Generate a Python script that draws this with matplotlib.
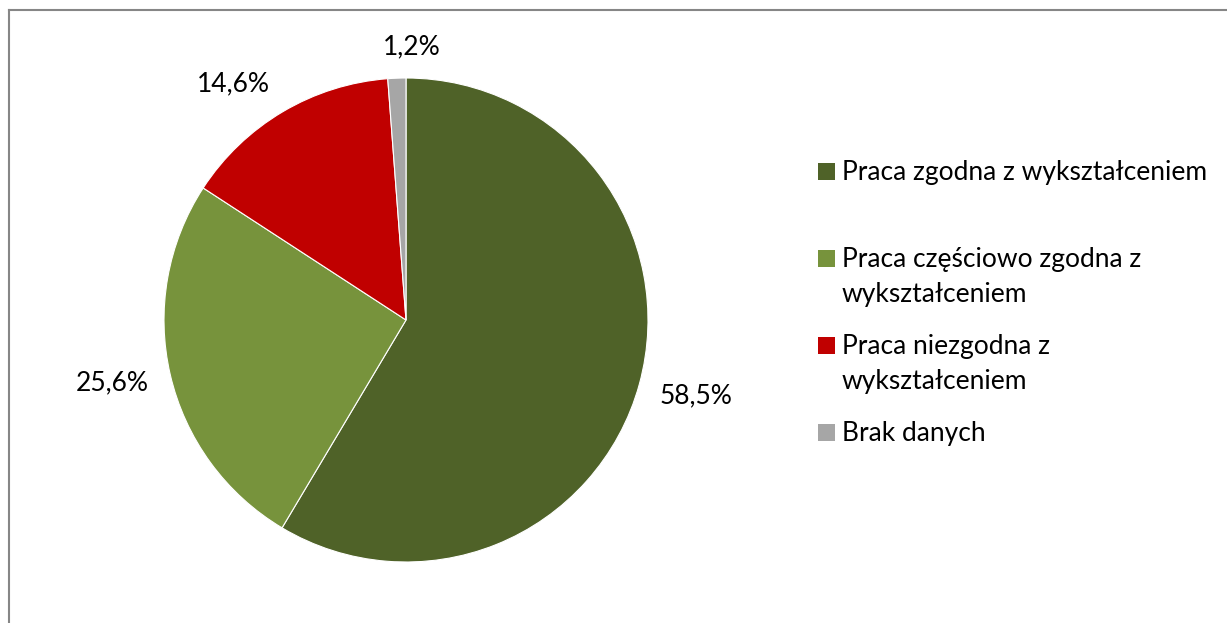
import numpy as np
import matplotlib.pyplot as plt
from matplotlib.patches import Rectangle
from matplotlib.lines import Line2D

plt.rcParams['font.family'] = ['Lato', 'DejaVu Sans']

labels = ['Praca zgodna z wykształceniem',
          'Praca częściowo zgodna z\nwykształceniem',
          'Praca niezgodna z\nwykształceniem',
          'Brak danych']
values = [58.5, 25.6, 14.6, 1.2]
colors = ['#4F6228', '#77933C', '#C00000', '#A6A6A6']
pct_text = ['58,5%', '25,6%', '14,6%', '1,2%']

W, H = 1227, 623
fig = plt.figure(figsize=(W / 100, H / 100), dpi=100)

# pie axes: centre (406, 320) px, radius 242 px
cx, cy, r = 406, 320, 242
ax = fig.add_axes([(cx - r) / W, (H - cy - r) / H, 2 * r / W, 2 * r / H])
wedges, _ = ax.pie(values, colors=colors, startangle=90, counterclock=False,
                   radius=1, wedgeprops=dict(edgecolor='white', linewidth=0.8))
ax.set_xlim(-1, 1)
ax.set_ylim(-1, 1)
ax.set_aspect('equal')

# label placement: radial distance and small angle nudge (deg) per wedge
dists = [1.24, 1.24, 1.21, 1.13]
nudge = [0.8, -1.0, 5.6, -3.3]
for w, t, d, n in zip(wedges, pct_text, dists, nudge):
    ang = np.deg2rad((w.theta1 + w.theta2) / 2 + n)
    ax.text(d * np.cos(ang), d * np.sin(ang), t, ha='center', va='center',
            fontsize=19, color='black')

# legend drawn by hand (baseline of first line, px from top)
leg_y = [180, 267, 354, 441]
line_h = 35
for lab, c, y in zip(labels, colors, leg_y):
    fig.patches.append(Rectangle((818 / W, 1 - y / H), 17 / W, 17 / H,
                                 transform=fig.transFigure, facecolor=c,
                                 edgecolor='none'))
    for i, part in enumerate(lab.split('\n')):
        fig.text(842 / W, 1 - (y + i * line_h) / H, part, ha='left',
                 va='baseline', fontsize=19, transform=fig.transFigure)

# chart frame (cut off at right and bottom)
fig.lines.append(Line2D([9 / W, 9 / W], [0, 1 - 9.5 / H], transform=fig.transFigure,
                        color='#868686', linewidth=1.5))
fig.lines.append(Line2D([9 / W, 1], [1 - 9.5 / H, 1 - 9.5 / H], transform=fig.transFigure,
                        color='#868686', linewidth=1.5))

fig.savefig('out.png', dpi=100)
